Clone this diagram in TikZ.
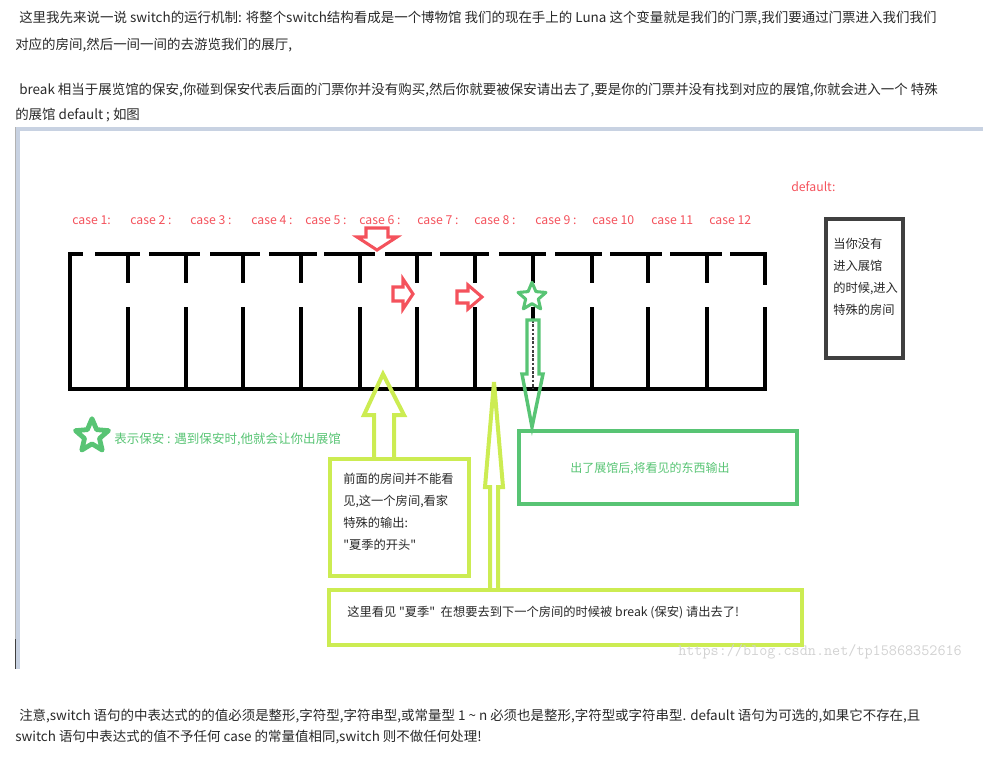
\documentclass[tikz,border=0pt]{standalone}
\usepackage{fontspec}
\setmainfont{Noto Sans CJK SC}[Ligatures=TeXOff]
\usetikzlibrary{shapes.geometric}

\definecolor{caseRed}{RGB}{244,82,92}
\definecolor{guardGreen}{RGB}{88,196,116}
\definecolor{limeGreen}{RGB}{204,236,82}
\definecolor{boxGray}{RGB}{64,64,64}
\definecolor{bodyGray}{RGB}{40,40,40}
\definecolor{frameBlue}{RGB}{200,210,226}

\begin{document}
\begin{tikzpicture}[x=0.75pt,y=0.75pt,yscale=-1,xscale=1,
	wall/.style={line width=3pt},
	bodytxt/.style={anchor=west, inner sep=0, text=bodyGray, font=\fontsize{10.1}{12}\selectfont},
	casetxt/.style={anchor=west, inner sep=0, text=caseRed, font=\fontsize{9.2}{10}\selectfont},
	boxtxt/.style={anchor=west, inner sep=0, align=left, text=bodyGray, font=\fontsize{9.2}{16.5}\selectfont},
	redarrow/.style={draw=caseRed, line width=2.3pt},
	greenline/.style={draw=guardGreen, line width=2.6pt},
	limeline/.style={draw=limeGreen, line width=3pt},
	guardstar/.style={star, star points=5, star point ratio=2.2, draw=guardGreen, fill=white, inner sep=0, line join=round}]
	\useasboundingbox (0,0) rectangle (983,782);
	
	%Text: intro
	\node[bodytxt] (intro1) at (19,18) {这里我先来说一说 switch的运行机制: 将整个switch结构看成是一个博物馆 我们的现在手上的 Luna 这个变量就是我们的门票,我们要通过门票进入我们我们};
	\node[bodytxt] (intro2) at (15,45) {对应的房间,然后一间一间的去游览我们的展厅,};
	\node[bodytxt] (intro3) at (19,90) {break 相当于展览馆的保安,你碰到保安代表后面的门票你并没有购买,然后你就要被保安请出去了,要是你的门票并没有找到对应的展馆,你就会进入一个 特殊};
	\node[bodytxt] (intro4) at (15,115) {的展馆 default ; 如图};
	
	%Shape: picture frame
	\draw[frameBlue, line width=3pt] (18,128.5) -- (983,128.5);
	\draw[frameBlue, line width=3pt] (18,127) -- (18,669);
	\draw[gray!60, line width=0.8pt] (15.5,127) -- (15.5,669);
	\draw[boxGray, line width=0.8pt] (15.5,639) -- (15.5,669);
	
	%Text: case labels
	\foreach \x/\t [count=\i] in {72/case 1:,130/case 2 :,190/case 3 :,251/case 4 :,305/case 5 :,359/case 6 :,417/case 7 :,474/case 8 :,535/case 9 :,592/case 10,651/case 11,709/case 12}
		\node[casetxt] (case\i) at (\x,220) {\t};
	\node[casetxt] (defaultlbl) at (791,187) {default:};
	
	%Straight Lines: top wall with its doors
	\foreach \a/\b in {68/83,95/140,149/200,210/260,269/317,324/375,385/432,440/489,499/546,555/602,610/662,670/722,730/767}
		\draw[wall] (\a,254) -- (\b,254);
	%Straight Lines: outer walls
	\draw[wall] (70,254) -- (70,389) -- (765,389) -- (765,307);
	\draw[wall] (765,254) -- (765,285);
	%Straight Lines: inner walls
	\foreach \x in {128,186,243,301,360,417,475,592,648,707} {
		\draw[wall] (\x,254) -- (\x,283);
		\draw[wall] (\x,307) -- (\x,389);
	}
	\draw[wall] (533,254) -- (533,283);
	\draw[wall] (533,307) -- (533,320);
	\draw[boxGray, line width=2.2pt, dash pattern=on 2pt off 1.2pt] (533,320) -- (533,389);
	
	%Shape: red arrows
	\draw[redarrow] (366,228) -- (388,228) -- (388,237) -- (397,237) -- (377,250) -- (357,237) -- (366,237) -- cycle;
	\draw[redarrow] (393,287) -- (403,287) -- (403,279) -- (413,294) -- (403,309) -- (403,301) -- (393,301) -- cycle;
	\draw[redarrow] (457,291) -- (468,291) -- (468,285) -- (482,297) -- (468,309) -- (468,303) -- (457,303) -- cycle;
	
	%Shape: guard star
	\node[guardstar, line width=2.3pt, minimum size=22pt] (guard) at (532,297) {};
	
	%Shape: green arrow down to the exit box
	\draw[greenline] (527,320) -- (539,320) -- (539,374) -- (543,374) -- (532,427) -- (522,374) -- (527,374) -- cycle;
	\draw[greenline, line width=3pt] (519,431) rectangle (797,504);
	\node[anchor=center, inner sep=0, text=guardGreen, font=\fontsize{9}{10}\selectfont] (exittxt) at (650,469) {出了展馆后,将看见的东西输出};
	
	%Shape: default box
	\draw[boxGray, line width=3.2pt] (826,219) rectangle (903,358);
	\node[boxtxt] (defaulttxt) at (833,277) {当你没有\\进入展馆\\的时候,进入\\特殊的房间};
	
	%Shape: legend
	\node[guardstar, line width=3.6pt, minimum size=26pt] (legendstar) at (92,436) {};
	\node[anchor=west, inner sep=0, text=guardGreen, font=\fontsize{9.4}{10}\selectfont] (legendtxt) at (114,439) {表示保安 : 遇到保安时,他就会让你出展馆};
	
	%Shape: lime arrow and first box
	\draw[limeline] (374,458) -- (374,415) -- (364,415) -- (383,374) -- (404,415) -- (394,415) -- (394,458);
	\draw[limeline] (330,459) rectangle (469,576);
	\node[boxtxt] (viewtxt) at (343,512) {前面的房间并不能看\\见,这一个房间,看家\\特殊的输出:\\"夏季的开头"};
	
	%Shape: thin lime arrow and second box
	\draw[limeline] (490,588) -- (490,487) -- (485,487) -- (494,382) -- (503,487) -- (498,487) -- (498,588);
	\draw[limeline] (329,590) rectangle (802,645);
	\node[boxtxt] (breaktxt) at (347,613) {这里看见 "夏季"\ \ 在想要去到下一个房间的时候被 break (保安) 请出去了!};
	
	%Text: watermark
	\node[anchor=west, inner sep=0, text=gray!35, font=\ttfamily\fontsize{11.8}{12}\selectfont] (mark) at (678,652) {https://blog.csdn.net/tp15868352616};
	
	%Text: note
	\node[bodytxt] (note1) at (19,716) {注意,switch 语句的中表达式的的值必须是整形,字符型,字符串型,或常量型 1 \textasciitilde\ n 必须也是整形,字符型或字符串型. default 语句为可选的,如果它不存在,且};
	\node[bodytxt] (note2) at (15,737) {switch 语句中表达式的值不予任何 case 的常量值相同,switch 则不做任何处理!};
	
\end{tikzpicture}
\end{document}
